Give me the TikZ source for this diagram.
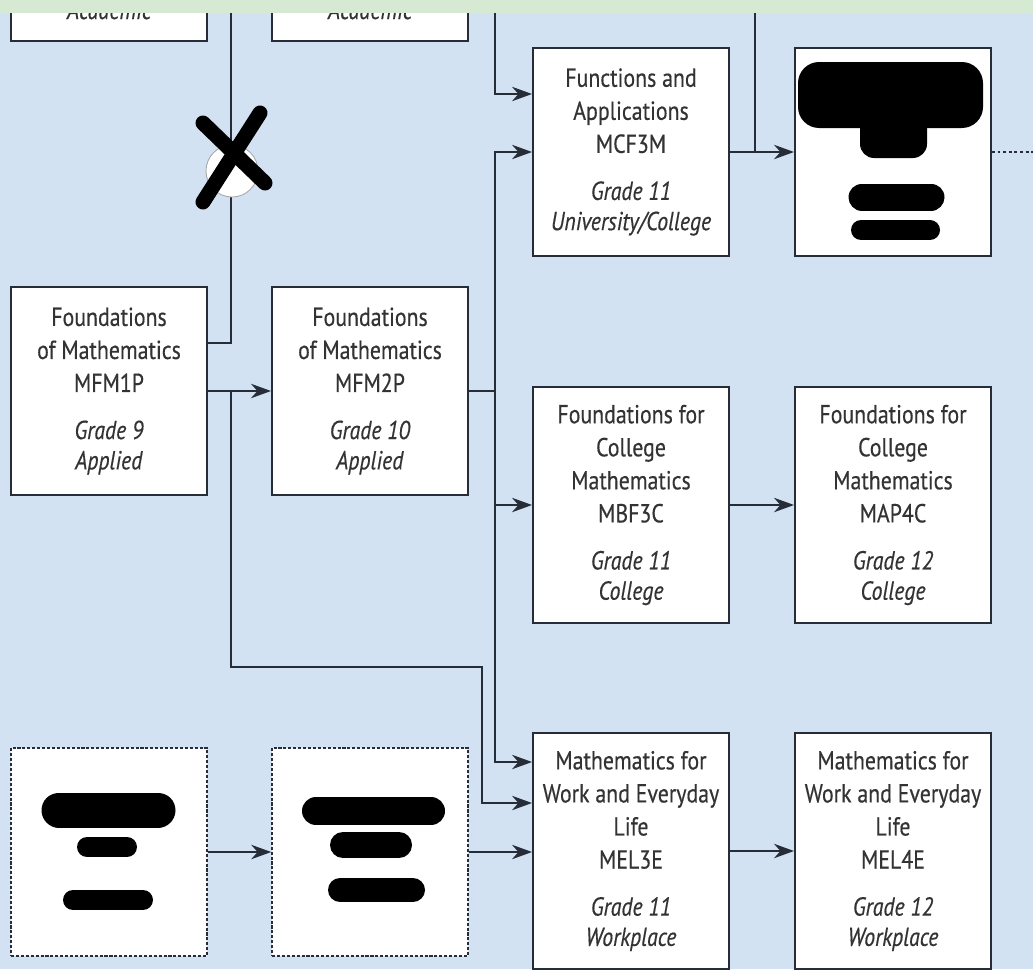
\documentclass[tikz,border=0pt]{standalone}
\usepackage{fontspec}
\setmainfont[FakeStretch=0.84,FakeBold=0.4]{PT Sans}
\usetikzlibrary{arrows.meta,calc}
\definecolor{fondo}{HTML}{D3E2F3}
\definecolor{franja}{HTML}{D6E9D2}
\definecolor{tinta}{HTML}{262D38}
\definecolor{texto}{HTML}{333333}

\begin{document}
\begin{tikzpicture}[x=0.25mm,y=-0.25mm, %Itinerario de cursos
    curso/.style={draw=tinta,line width=1.4pt,fill=white,text=texto,align=center,inner sep=0pt,
        minimum width=49mm,minimum height=52mm,font=\fontsize{18.5pt}{23.5pt}\selectfont},
    alto/.style={minimum height=59mm},
    oculto/.style={curso,dash pattern=on 2.2pt off 1.3pt,line width=1.1pt},
    linea/.style={draw=tinta,line width=1.3pt},
    flecha/.style={linea,-{Stealth[length=5mm,width=3.6mm,inset=1.6mm]}},
    tachon/.style={line width=#1,line cap=round}]
    \useasboundingbox (0,0) rectangle (1033,969);
    \clip (0,0) rectangle (1033,969);
    \fill[fondo] (0,0) rectangle (1033,969);

    \node[curso] (topA) at (109,-63) {};
    \node[curso] (topB) at (370,-63) {};
    \node[text=texto,anchor=base,font=\fontsize{18.5pt}{23.5pt}\selectfont\itshape] (acadA) at (109,19) {Academic};
    \node[text=texto,anchor=base,font=\fontsize{18.5pt}{23.5pt}\selectfont\itshape] (acadB) at (370,19) {Academic};

    \node[curso] (mfm1p) at (109,391) {Foundations\\of Mathematics\\MFM1P\\[10pt]\textit{Grade 9}\\[-2pt]\textit{Applied}};
    \node[curso] (mfm2p) at (370,391) {Foundations\\of Mathematics\\MFM2P\\[10pt]\textit{Grade 10}\\[-2pt]\textit{Applied}};
    \node[curso] (mcf3m) at (631,152) {Functions and\\Applications\\MCF3M\\[10pt]\textit{Grade 11}\\[-2pt]\textit{University/College}};
    \node[curso] (redR) at (893,152) {};
    \node[curso,alto] (mbf3c) at (631,505) {Foundations for\\College\\Mathematics\\MBF3C\\[10pt]\textit{Grade 11}\\[-2pt]\textit{College}};
    \node[curso,alto] (map4c) at (893,505) {Foundations for\\College\\Mathematics\\MAP4C\\[10pt]\textit{Grade 12}\\[-2pt]\textit{College}};
    \node[curso,alto] (mel3e) at (631,851) {Mathematics for\\Work and Everyday\\Life\\MEL3E\\[10pt]\textit{Grade 11}\\[-2pt]\textit{Workplace}};
    \node[curso,alto] (mel4e) at (893,851) {Mathematics for\\Work and Everyday\\Life\\MEL4E\\[10pt]\textit{Grade 12}\\[-2pt]\textit{Workplace}};
    \node[oculto] (dashA) at (109,852) {};
    \node[oculto] (dashB) at (370,852) {};

    \coordinate (xtop) at (231,0);
    \coordinate (ytop) at (495,0);
    \coordinate (ztop) at (755,0);
    \coordinate (split1) at (231,391);
    \coordinate (split2) at (495,391);
    \coordinate (turn1) at (482,667);
    \coordinate (edgeR) at (1033,152);

    \draw[linea] ($(mfm1p.east)+(0,-48)$) -| (xtop);
    \draw[flecha] (mfm1p) -- (mfm2p);
    \draw[flecha] (split1) |- (turn1) |- ($(mel3e.west)+(0,-48)$);
    \draw[flecha] (mfm2p.east) -- (split2) |- (mcf3m.west);
    \draw[flecha] (split2) |- (mbf3c.west);
    \draw[flecha] (split2) |- ($(mel3e.west)+(0,-89)$);
    \draw[flecha] (ytop) |- ($(mcf3m.west)+(0,-58)$);
    \draw[linea] (ztop) -- (ztop |- mcf3m.east);
    \draw[flecha] (mcf3m) -- (redR);
    \draw[linea,dash pattern=on 2pt off 2pt] (redR.east) -- (edgeR);
    \draw[flecha] (mbf3c) -- (map4c);
    \draw[flecha] (mel3e) -- (mel4e);
    \draw[flecha] (dashA) -- (dashB);
    \draw[flecha] (dashB.east) -- (dashB.east -| mel3e.west);

    % tachones
    \fill[black,rounded corners=15pt] (798,62) rectangle (983,128);
    \fill[black,rounded corners=10pt] (860,100) rectangle (927,158);
    \draw[tachon=6.75mm] (862,197) -- (931,197);
    \draw[tachon=5mm] (861,230) -- (930,230);
    \draw[tachon=8.75mm] (59,810) -- (158,810);
    \draw[tachon=5mm] (87,847) -- (127,847);
    \draw[tachon=5mm] (73,900) -- (143,900);
    \draw[tachon=7mm] (316,811) -- (431,811);
    \draw[tachon=6.5mm] (343,845) -- (399,845);
    \draw[tachon=6mm] (340,890) -- (413,890);

    \node[circle,draw=gray!70,fill=white,line width=0.6pt,minimum size=13mm,inner sep=0pt] (cruz) at (232,171) {};
    \draw[tachon=3.75mm] ($(cruz)+(-29,-48)$) -- ($(cruz)+(33,12)$);
    \draw[tachon=3.75mm] ($(cruz)+(28,-58)$) -- ($(cruz)+(-29,31)$);

    \fill[franja] (0,0) rectangle (1033,13);
\end{tikzpicture}
\end{document}
